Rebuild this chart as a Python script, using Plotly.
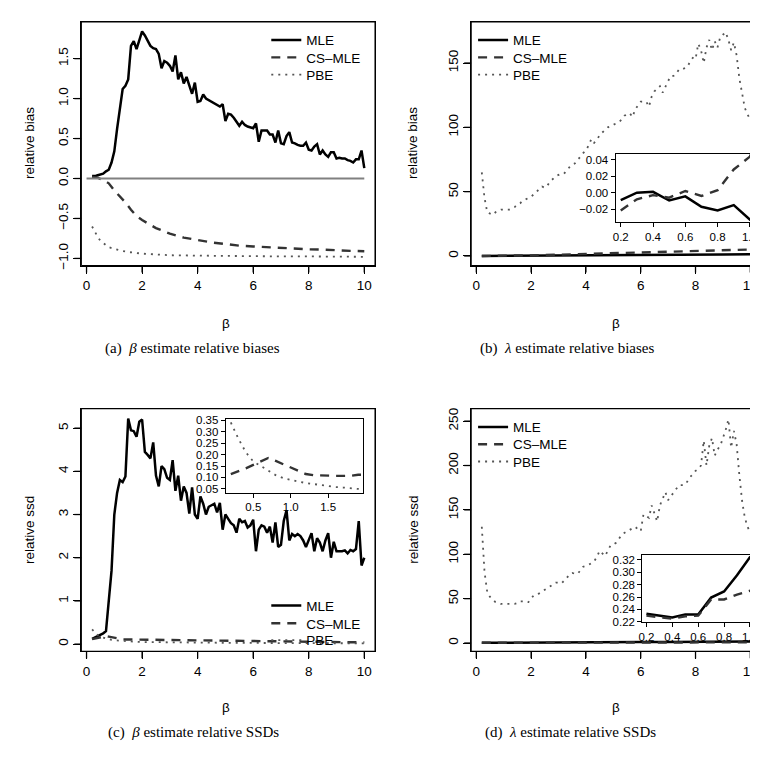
import numpy as np
import plotly.graph_objects as go

W, H = 758, 759

# ---------------- data ----------------
beta = [round(0.2 + 0.1 * i, 1) for i in range(99)]

mle_a = [0.03, 0.03, 0.04, 0.05, 0.06, 0.09, 0.11, 0.20, 0.34, 0.62,
         0.90, 1.12, 1.16, 1.24, 1.66, 1.72, 1.62, 1.72, 1.84, 1.79,
         1.72, 1.66, 1.63, 1.62, 1.56, 1.38, 1.47, 1.45, 1.41, 1.34,
         1.54, 1.24, 1.33, 1.19, 1.27, 1.16, 1.06, 1.20, 0.96, 0.97,
         1.05, 1.00, 0.98, 0.96, 0.93, 0.92, 0.90, 0.93, 0.72, 0.81,
         0.80, 0.76, 0.71, 0.66, 0.71, 0.67, 0.65, 0.64, 0.63, 0.69,
         0.46, 0.60, 0.60, 0.60, 0.55, 0.55, 0.45, 0.60, 0.44, 0.43,
         0.53, 0.58, 0.45, 0.44, 0.42, 0.41, 0.41, 0.45, 0.36, 0.35,
         0.40, 0.43, 0.30, 0.35, 0.30, 0.27, 0.33, 0.33, 0.25, 0.26,
         0.25, 0.25, 0.23, 0.22, 0.20, 0.24, 0.24, 0.35, 0.13]
cs_a_x = [0.2, 0.4, 0.6, 0.8, 1.0, 1.2, 1.4, 1.6, 1.8, 2.0, 2.5, 3.0, 3.5,
          4.0, 4.5, 5.0, 5.5, 6.0, 6.5, 7.0, 7.5, 8.0, 8.5, 9.0, 9.5, 10.0]
cs_a = [0.02, 0.01, -0.02, -0.06, -0.15, -0.22, -0.30, -0.39, -0.47, -0.52,
        -0.62, -0.69, -0.74, -0.77, -0.80, -0.82, -0.84, -0.85, -0.86, -0.87,
        -0.88, -0.886, -0.89, -0.90, -0.905, -0.91]
pbe_a_x = [0.2, 0.3, 0.4, 0.5, 0.6, 0.7, 0.8, 1.0, 1.2, 1.5, 2.0, 2.5, 3.0,
           4.0, 5.0, 6.0, 7.0, 8.0, 9.0, 10.0]
pbe_a = [-0.60, -0.67, -0.73, -0.78, -0.81, -0.84, -0.86, -0.88, -0.90, -0.92,
         -0.94, -0.95, -0.96, -0.965, -0.97, -0.97, -0.975, -0.975, -0.98, -0.98]
zero_x = [0.0, 10.0]
zero_y = [0.0, 0.0]

lam_x = [0.2, 0.3, 0.4, 0.5, 0.6, 0.7, 0.8, 0.9, 1.0, 2, 3, 4, 5, 6, 7, 8, 9, 10]
mle_b = [-0.009, 0.000, 0.001, -0.0095, -0.0045, -0.017, -0.0214, -0.015, -0.0326,
         0.02, 0.1, 0.2, 0.35, 0.5, 0.65, 0.85, 1.05, 1.3]
cs_b = [-0.0214, -0.008, -0.003, -0.006, 0.002, -0.004, 0.003, 0.028, 0.0435,
        0.5, 1.0, 1.5, 2.0, 2.5, 3.1, 3.7, 4.3, 5.0]
pbe_b = [65, 45, 34, 33, 32, 34, 35, 36, 36, 36,
         36, 37, 38, 40, 41, 43, 44, 45, 46, 48,
         50, 52, 54, 53, 55, 58, 60, 62, 63, 64,
         64, 67, 69, 71, 72, 75, 77, 80, 82, 86,
         91, 88, 90, 94, 96, 98, 100, 101, 102, 103,
         104, 106, 109, 110, 111, 108, 114, 117, 120, 120,
         120, 116, 124, 128, 130, 132, 127, 132, 136, 140,
         140, 142, 145, 145, 146, 147, 151, 154, 153, 165,
         160, 150, 162, 168, 160, 167, 162, 170, 172, 174,
         168, 160, 166, 156, 138, 125, 115, 110, 106]

mle_c = [0.12, 0.15, 0.18, 0.21, 0.25, 0.30, 1.00, 1.70, 3.00, 3.50,
         3.80, 3.75, 3.88, 5.22, 4.95, 4.93, 4.80, 5.15, 5.20, 4.45,
         4.38, 4.30, 4.67, 3.90, 3.65, 4.12, 4.05, 3.85, 3.80, 4.26,
         3.55, 3.90, 3.32, 3.65, 3.50, 3.02, 3.63, 3.00, 2.90, 3.42,
         3.25, 3.00, 3.18, 3.22, 3.25, 3.05, 3.27, 2.65, 3.00, 2.90,
         2.80, 2.75, 2.58, 2.90, 2.82, 2.85, 2.70, 2.75, 2.88, 2.15,
         2.65, 2.75, 2.72, 2.58, 2.72, 2.35, 2.82, 2.25, 2.30, 2.85,
         3.10, 2.40, 2.55, 2.50, 2.55, 2.50, 2.40, 2.25, 2.40, 2.57,
         2.15, 2.45, 2.35, 2.15, 2.40, 2.57, 2.00, 2.37, 2.15, 2.15,
         2.15, 2.17, 2.10, 2.18, 2.15, 2.20, 2.85, 1.82, 2.00]
sm_c_x = [0.2, 0.3, 0.4, 0.5, 0.6, 0.7, 0.8, 0.9, 1.0, 1.1, 1.2, 1.3, 1.4, 1.5,
          1.6, 1.7, 1.8, 1.9, 2.5, 3, 4, 5, 6, 7, 8, 9, 10]
cs_c = [0.115, 0.127, 0.14, 0.155, 0.17, 0.185, 0.172, 0.157, 0.142, 0.127,
        0.115, 0.11, 0.108, 0.107, 0.107, 0.107, 0.107, 0.112,
        0.10, 0.09, 0.08, 0.07, 0.06, 0.055, 0.05, 0.045, 0.04]
pbe_c = [0.34, 0.27, 0.21, 0.17, 0.15, 0.13, 0.11, 0.097, 0.088, 0.082,
         0.076, 0.071, 0.066, 0.061, 0.058, 0.056, 0.053, 0.05,
         0.045, 0.04, 0.035, 0.03, 0.027, 0.025, 0.022, 0.02, 0.018]

mle_d = [0.233, 0.2305, 0.227, 0.232, 0.232, 0.259, 0.269, 0.295, 0.324,
         0.45, 0.6, 0.75, 0.9, 1.05, 1.2, 1.4, 1.6, 1.8]
cs_d = [0.230, 0.228, 0.225, 0.229, 0.230, 0.256, 0.256, 0.264, 0.269,
        0.32, 0.38, 0.44, 0.5, 0.56, 0.62, 0.68, 0.74, 0.8]
pbe_d = [131, 80, 57, 52, 49, 46, 45, 44, 44, 44,
         44, 44, 44, 45, 47, 47, 46, 46, 50, 54,
         55, 56, 58, 60, 62, 64, 66, 68, 68, 67,
         70, 74, 77, 79, 78, 78, 82, 86, 87, 88,
         90, 92, 97, 104, 101, 98, 104, 110, 111, 113,
         117, 122, 124, 126, 128, 130, 131, 128, 126, 145,
         143, 141, 155, 146, 137, 155, 163, 170, 161, 165,
         169, 174, 178, 178, 178, 182, 187, 190, 194, 196,
         200, 228, 200, 222, 231, 211, 218, 222, 230, 240,
         252, 220, 239, 224, 189, 160, 141, 131, 124]

series_names = ["MLE", "CS\u2013MLE", "PBE"]
x_ticks = [0, 2, 4, 6, 8, 10]
ya_ticks = [-1.0, -0.5, 0.0, 0.5, 1.0, 1.5]
yb_ticks = [0, 50, 100, 150]
yc_ticks = [0, 1, 2, 3, 4, 5]
yd_ticks = [0, 50, 100, 150, 200, 250]
ib_x_ticks = [0.2, 0.4, 0.6, 0.8, 1.0]
ib_y_ticks = [-0.02, 0.0, 0.02, 0.04]
ic_x_ticks = [0.5, 1.0, 1.5]
ic_y_ticks = [0.05, 0.10, 0.15, 0.20, 0.25, 0.30, 0.35]
id_x_ticks = [0.2, 0.4, 0.6, 0.8, 1.0]
id_y_ticks = [0.22, 0.24, 0.26, 0.28, 0.30, 0.32]

# ---------------- styles / geometry ----------------
SANS = "Liberation Sans"
SERIF = "Liberation Serif"
FS = 13.5
TICKLEN = 7
sty = {
    "MLE": dict(color="#000000", width=2.5, dash="solid"),
    "CS": dict(color="#333333", width=2.4, dash="9px,7px"),
    "PBE": dict(color="#555555", width=1.8, dash="2px,5px"),
}
XR = [-0.19, 10.39]
PANELS = {  # pixel box (left, right, top, bottom), axis ranges, y ticks
    "a": dict(box=(70, 367, 10, 257), xr=XR, yr=[-1.09, 1.96], yt=ya_ticks, fmt=".1f"),
    "b": dict(box=(464, 757, 10, 257), xr=XR, yr=[-7.5, 182], yt=yb_ticks, fmt="d"),
    "c": dict(box=(70, 367, 402, 648), xr=XR, yr=[-0.17, 5.45], yt=yc_ticks, fmt="d"),
    "d": dict(box=(464, 757, 402, 648), xr=XR, yr=[-9.5, 264], yt=yd_ticks, fmt="d"),
}


def px(x):
    return x / W


def py(y):
    return 1 - y / H


fig = go.Figure()


def add(x, y, key, name, ax, legend=None):
    fig.add_trace(go.Scatter(
        x=x, y=y, mode="lines", name=name, line=sty[key],
        xaxis=ax[0], yaxis=ax[1], hoverinfo="skip",
        showlegend=legend is not None, legend=legend or "legend",
    ))


A, B, C, D = ("x", "y"), ("x2", "y2"), ("x3", "y3"), ("x4", "y4")
IB, IC, ID = ("x5", "y5"), ("x6", "y6"), ("x7", "y7")

# panel a
add(beta, mle_a, "MLE", series_names[0], A, "legend")
add(cs_a_x, cs_a, "CS", series_names[1], A, "legend2")
add(pbe_a_x, pbe_a, "PBE", series_names[2], A, "legend3")
fig.add_trace(go.Scatter(x=zero_x, y=zero_y, mode="lines", showlegend=False, hoverinfo="skip",
                         line=dict(color="#808080", width=2), xaxis=A[0], yaxis=A[1]))
# panel b
add(lam_x, mle_b, "MLE", series_names[0], B, "legend4")
add(lam_x, cs_b, "CS", series_names[1], B, "legend5")
add(beta, pbe_b, "PBE", series_names[2], B, "legend6")
add(lam_x, mle_b, "MLE", series_names[0], IB)
add(lam_x, cs_b, "CS", series_names[1], IB)
# panel c
add(beta, mle_c, "MLE", series_names[0], C, "legend7")
add(sm_c_x, cs_c, "CS", series_names[1], C, "legend8")
add(sm_c_x, pbe_c, "PBE", series_names[2], C, "legend9")
add(sm_c_x, cs_c, "CS", series_names[1], IC)
add(sm_c_x, pbe_c, "PBE", series_names[2], IC)
# panel d
add(lam_x, mle_d, "MLE", series_names[0], D, "legend10")
add(lam_x, cs_d, "CS", series_names[1], D, "legend11")
add(beta, pbe_d, "PBE", series_names[2], D, "legend12")
add(lam_x, mle_d, "MLE", series_names[0], ID)
add(lam_x, cs_d, "CS", series_names[1], ID)


def axis(domain, rng, ticks, fmt, anchor, is_y, inset=False):
    d = dict(
        domain=domain, range=rng, tickmode="array", tickvals=ticks,
        ticktext=[format(t, fmt).replace("-", "\u2212") for t in ticks],
        anchor=anchor, layer="above traces",
        showline=True, mirror=True, linecolor="black", linewidth=1,
        ticks="outside", ticklen=4 if inset else TICKLEN, tickcolor="black", tickwidth=1,
        showgrid=False, zeroline=False, fixedrange=True,
        tickfont=dict(family=SANS, size=11.5 if inset else FS, color="black"),
    )
    if is_y and not inset:
        d["tickangle"] = -90
    return d


lay = {}
for (p, (xa, ya)) in zip("abcd", [A, B, C, D]):
    g = PANELS[p]
    L, R, T, Bt = g["box"]
    xk = "xaxis" if xa == "x" else "xaxis" + xa[1:]
    yk = "yaxis" if ya == "y" else "yaxis" + ya[1:]
    lay[xk] = axis([px(L), px(R)], g["xr"], x_ticks, "d", ya, False)
    lay[yk] = axis([py(Bt), py(T)], g["yr"], g["yt"], g["fmt"], xa, True)
lay.update(
    xaxis5=axis([px(610), px(751)], [0.168, 1.032], ib_x_ticks, ".1f", "y5", False, True),
    yaxis5=axis([py(213), py(144)], [-0.0356, 0.0465], ib_y_ticks, ".2f", "x5", True, True),
    xaxis6=axis([px(216), px(355)], [0.132, 1.968], ic_x_ticks, ".1f", "y6", False, True),
    yaxis6=axis([py(487), py(412)], [0.034, 0.357], ic_y_ticks, ".2f", "x6", True, True),
    xaxis7=axis([px(637), px(750)], [0.168, 1.032], id_x_ticks, ".1f", "y7", False, True),
    yaxis7=axis([py(618), py(550)], [0.220, 0.328], id_y_ticks, ".2f", "x7", True, True),
    # full-page overlay axes (paper fractions) carrying the main panels' frames and tick marks
    xaxis8=dict(domain=[0, 1], range=[0, 1], anchor="y8", visible=False, fixedrange=True),
    yaxis8=dict(domain=[0, 1], range=[0, 1], anchor="x8", visible=False, fixedrange=True),
)
fig.update_layout(**lay)

# frames and tick marks: positions follow each panel's domain box and axis range
fx, fy = [], []
for p in "abcd":
    g = PANELS[p]
    L, R, T, Bt = g["box"]
    x0r, x1r = g["xr"]
    y0r, y1r = g["yr"]
    fx += [px(L), px(R), px(R), px(L), px(L), None]
    fy += [py(Bt), py(Bt), py(T), py(T), py(Bt), None]
    for t in x_ticks:
        xpix = L + (t - x0r) / (x1r - x0r) * (R - L)
        fx += [px(xpix), px(xpix), None]
        fy += [py(Bt), py(Bt + TICKLEN), None]
    for t in g["yt"]:
        ypix = Bt - (t - y0r) / (y1r - y0r) * (Bt - T)
        fx += [px(L), px(L - TICKLEN), None]
        fy += [py(ypix), py(ypix), None]
fig.add_trace(go.Scatter(x=fx, y=fy, mode="lines", showlegend=False, hoverinfo="skip",
                         line=dict(color="black", width=1.3), xaxis="x8", yaxis="y8"))


def leg(x, y):
    return dict(x=px(x), y=py(y), xanchor="left", yanchor="top",
                bgcolor="rgba(0,0,0,0)", borderwidth=0, itemwidth=30,
                tracegroupgap=0, font=dict(family=SANS, size=FS, color="black"))


legend_tops = {"a": [13, 30.5, 48], "b": [13, 30.5, 48],
               "c": [586, 604, 621], "d": [405, 422.5, 440]}
legend_left = {"a": 257, "b": 466, "c": 257, "d": 466}
legs = {}
n = 1
for p in ["a", "b", "c", "d"]:
    for top in legend_tops[p]:
        key = "legend" if n == 1 else "legend%d" % n
        legs[key] = leg(legend_left[p], top)
        n += 1
fig.update_layout(**legs)

ann = []
for (xc, yc, t) in [(17, 133, "relative bias"), (405, 133, "relative bias"),
                    (17, 525, "relative ssd"), (405, 525, "relative ssd")]:
    ann.append(dict(x=px(xc), y=py(yc), xref="paper", yref="paper", text=t,
                    textangle=-90, showarrow=False, xanchor="center", yanchor="middle",
                    font=dict(family=SANS, size=FS, color="black")))
for (xc, yc) in [(216, 316), (610, 316), (216, 705), (610, 705)]:
    ann.append(dict(x=px(xc), y=py(yc), xref="paper", yref="paper", text="\u03b2",
                    showarrow=False, xanchor="center", yanchor="middle",
                    font=dict(family=SANS, size=FS, color="black")))
caps = [(182, 341, "(a)\u00a0\u00a0<i>\u03b2</i> estimate relative biases"),
        (561, 341, "(b)\u00a0\u00a0<i>\u03bb</i> estimate relative biases"),
        (183, 730, "(c)\u00a0\u00a0<i>\u03b2</i> estimate relative SSDs"),
        (564, 730, "(d)\u00a0\u00a0<i>\u03bb</i> estimate relative SSDs")]
for (xc, yc, t) in caps:
    ann.append(dict(x=px(xc), y=py(yc), xref="paper", yref="paper", text=t,
                    showarrow=False, xanchor="center", yanchor="middle",
                    font=dict(family=SERIF, size=15, color="black")))

fig.update_layout(
    width=W, height=H, margin=dict(l=0, r=0, t=0, b=0),
    paper_bgcolor="white", plot_bgcolor="rgba(0,0,0,0)",
    annotations=ann,
)

fig.write_html("out.html")
